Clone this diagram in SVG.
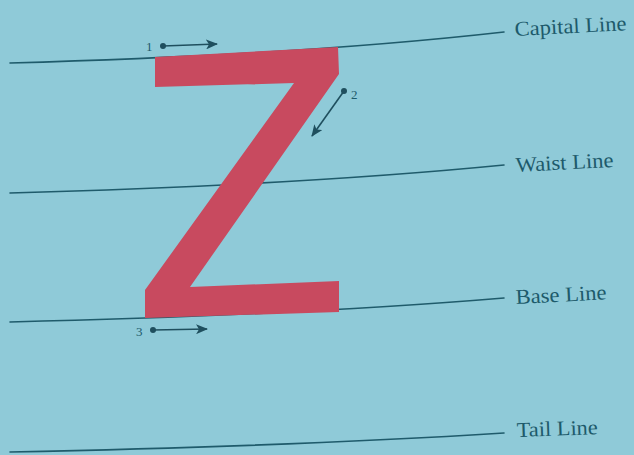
<svg xmlns="http://www.w3.org/2000/svg" width="634" height="455" viewBox="0 0 634 455">
<style>
.guide{fill:none;stroke:#1f5b6b;stroke-width:1.6;stroke-linecap:round}
.lbl{font-family:"Liberation Serif",serif;font-size:21px;fill:#1d5a6b}
.num{font-family:"Liberation Serif",serif;font-size:13px;fill:#1d5a6b}
.arr{fill:none;stroke:#1f4f5e;stroke-width:1.6}
.dot{fill:#1f4f5e}
</style>
<defs>
<marker id="ah" viewBox="0 0 12 10" refX="11" refY="5" markerWidth="12" markerHeight="10" markerUnits="userSpaceOnUse" orient="auto">
<path d="M0,0 L12,5 L0,10 L3,5 Z" fill="#1f4f5e"/>
</marker>
</defs>
<rect width="634" height="455" fill="#8fcad8"/>
<g id="lines">
<path id="capital-line" class="guide" d="M10,63 Q300,55 504,32"/>
<path id="waist-line" class="guide" d="M10,193 Q300,185 504,165"/>
<path id="base-line" class="guide" d="M10,322 Q300,315 504,298"/>
<path id="tail-line" class="guide" d="M10,452 Q300,446 504,433"/>
</g>
<g id="letter-z">
<polygon points="155,57 338,47 339,74 190,287 339,281 339,312 145,318 145,290 294,83 155,87" fill="#c84a5f"/>
</g>
<g id="connectors">
<line class="arr" x1="163" y1="46" x2="217" y2="44" marker-end="url(#ah)"/>
<line class="arr" x1="344" y1="91" x2="312" y2="136" marker-end="url(#ah)"/>
<line class="arr" x1="153" y1="330" x2="207" y2="329" marker-end="url(#ah)"/>
<circle class="dot" cx="163" cy="46" r="3"/>
<circle class="dot" cx="344" cy="91" r="3"/>
<circle class="dot" cx="153" cy="330" r="3"/>
</g>
<g id="step-labels">
<text class="num" x="146" y="51">1</text>
<text class="num" x="351" y="99">2</text>
<text class="num" x="136" y="336">3</text>
</g>
<g id="label-capital"><text class="lbl" x="515" y="36" transform="rotate(-3 515 36)" textLength="112" lengthAdjust="spacingAndGlyphs">Capital Line</text></g>
<g id="label-waist"><text class="lbl" x="516" y="172" transform="rotate(-3 516 172)" textLength="98" lengthAdjust="spacingAndGlyphs">Waist Line</text></g>
<g id="label-base"><text class="lbl" x="516" y="304" transform="rotate(-3 516 304)" textLength="91" lengthAdjust="spacingAndGlyphs">Base Line</text></g>
<g id="label-tail"><text class="lbl" x="517" y="437" transform="rotate(-2 517 437)" textLength="81" lengthAdjust="spacingAndGlyphs">Tail Line</text></g>
</svg>
